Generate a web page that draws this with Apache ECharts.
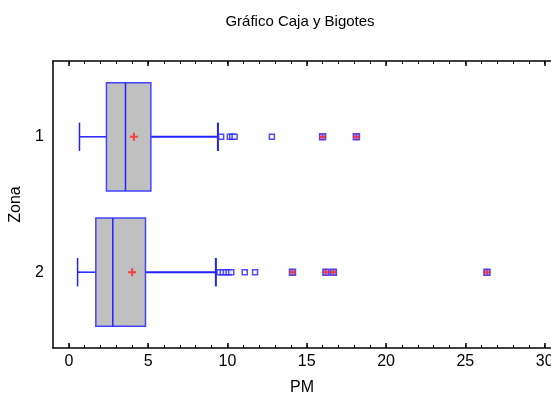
<!DOCTYPE html>
<html>
<head>
<meta charset="utf-8">
<script src="https://cdn.jsdelivr.net/npm/echarts@6/dist/echarts.min.js"></script>
<style>
  html, body { margin: 0; padding: 0; background: #fff; }
  #chart { width: 551px; height: 405px; }
</style>
</head>
<body>
<div id="chart"></div>
<script>
  const categories = ['1', '2'];
  const boxMin = [0.67, 0.55];
  const boxQ1 = [2.37, 1.7];
  const boxMedian = [3.57, 2.77];
  const boxQ3 = [5.17, 4.83];
  const boxMax = [9.4, 9.27];
  const means = [4.1, 3.99];
  const outliers1 = [9.6, 10.15, 10.3, 10.45, 12.8];
  const outliers2 = [9.5, 9.7, 9.9, 10.08, 10.24, 11.09, 11.74];
  const farOutliers1 = [16.0, 18.13];
  const farOutliers2 = [14.1, 16.21, 16.68, 26.36];
  const majorTicks = [0, 5, 10, 15, 20, 25, 30];
  const minorTicks = [0, 1, 2, 3, 4, 5, 6, 7, 8, 9, 10, 11, 12, 13, 14, 15,
    16, 17, 18, 19, 20, 21, 22, 23, 24, 25, 26, 27, 28, 29, 30];

  const font = "'Liberation Sans', Arial, sans-serif";
  const blue = '#2222ff';
  const plus = 'path://M3,0H5V3H8V5H5V8H3V5H0V3H3Z';

  const chart = echarts.init(document.getElementById('chart'), null, { renderer: 'canvas' });

  const boxData = categories.map((c, i) => [i + 1, boxMin[i], boxQ1[i], boxMedian[i], boxQ3[i], boxMax[i]]);
  const toPoints = (arr, zona) => arr.map((v) => [v, zona]);

  function renderBox(params, api) {
    const y = api.value(0);
    const lo = api.coord([api.value(1), y]);
    const q1 = api.coord([api.value(2), y]);
    const med = api.coord([api.value(3), y]);
    const q3 = api.coord([api.value(4), y]);
    const hi = api.coord([api.value(5), y]);
    const half = api.size([0, 0.4])[1];
    const cap = api.size([0, 0.105])[1];
    const cy = q1[1];
    const line = (x1, y1, x2, y2, w) => ({
      type: 'line',
      shape: { x1, y1, x2, y2 },
      style: { stroke: blue, lineWidth: w || 1.5 },
    });
    return {
      type: 'group',
      children: [
        line(lo[0], cy, q1[0], cy),
        line(q3[0], cy, hi[0], cy, 2),
        line(lo[0], cy - cap, lo[0], cy + cap),
        line(hi[0], cy - cap, hi[0], cy + cap, 2),
        {
          type: 'rect',
          shape: { x: q1[0], y: cy - half, width: q3[0] - q1[0], height: half * 2 },
          style: { fill: '#c0c0c0', stroke: '#4444ff', lineWidth: 1.5 },
        },
        line(med[0], cy - half, med[0], cy + half),
      ],
    };
  }

  const xBase = { type: 'value', min: -1, max: 30.4, splitLine: { show: false } };

  const option = {
    animation: false,
    textStyle: { fontFamily: font },
    title: {
      text: 'Gráfico Caja y Bigotes',
      left: 295,
      top: 9,
      textAlign: 'center',
      textStyle: { fontFamily: font, fontSize: 15, fontWeight: 'normal', color: '#000' },
    },
    grid: { left: 53, right: 0, top: 61, bottom: 57, outerBoundsMode: 'none' },
    xAxis: [
      Object.assign({}, xBase, {
        position: 'bottom',
        name: 'PM',
        nameLocation: 'middle',
        nameGap: 32,
        nameTextStyle: { fontFamily: font, fontSize: 16, color: '#000' },
        axisLine: { show: true, onZero: false, lineStyle: { color: '#000', width: 1.5 } },
        axisTick: { show: true, inside: true, length: 5, customValues: majorTicks, lineStyle: { color: '#000', width: 1.5 } },
        axisLabel: { show: true, customValues: majorTicks, margin: 6, fontFamily: font, fontSize: 16, color: '#000' },
      }),
      Object.assign({}, xBase, {
        position: 'bottom',
        axisLine: { show: false, onZero: false },
        axisTick: { show: true, inside: true, length: 3, customValues: minorTicks, lineStyle: { color: '#000' } },
        axisLabel: { show: false },
      }),
      Object.assign({}, xBase, {
        position: 'top',
        axisLine: { show: true, onZero: false, lineStyle: { color: '#000', width: 1.5 } },
        axisTick: { show: true, inside: true, length: 5, customValues: majorTicks, lineStyle: { color: '#000', width: 1.5 } },
        axisLabel: { show: false },
      }),
      Object.assign({}, xBase, {
        position: 'top',
        axisLine: { show: false, onZero: false },
        axisTick: { show: true, inside: true, length: 3, customValues: minorTicks, lineStyle: { color: '#000' } },
        axisLabel: { show: false },
      }),
    ],
    yAxis: {
      type: 'value',
      min: 0.44,
      max: 2.56,
      inverse: true,
      name: 'Zona',
      nameLocation: 'middle',
      nameGap: 29,
      nameTextStyle: { fontFamily: font, fontSize: 16, color: '#000' },
      splitLine: { show: false },
      axisLine: { show: true, onZero: false, lineStyle: { color: '#000', width: 1.5 } },
      axisTick: { show: false },
      axisLabel: {
        customValues: [1, 2],
        formatter: (v) => categories[Math.round(v) - 1],
        margin: 9,
        fontFamily: font,
        fontSize: 16,
        color: '#000',
      },
    },
    series: [
      {
        type: 'custom',
        renderItem: renderBox,
        encode: { x: [1, 2, 3, 4, 5], y: 0 },
        data: boxData,
        z: 2,
      },
      {
        type: 'scatter',
        symbol: 'rect',
        symbolSize: 5,
        itemStyle: { color: '#fff', borderColor: blue, borderWidth: 1.5 },
        data: toPoints(outliers1, 1).concat(toPoints(outliers2, 2)),
        z: 3,
      },
      {
        type: 'scatter',
        symbol: 'rect',
        symbolSize: 6,
        itemStyle: { color: '#8888ff', borderColor: blue, borderWidth: 1.5 },
        data: toPoints(farOutliers1, 1).concat(toPoints(farOutliers2, 2)),
        z: 3,
      },
      {
        type: 'scatter',
        symbol: plus,
        symbolSize: 7,
        itemStyle: { color: '#ff2020' },
        data: toPoints(farOutliers1, 1).concat(toPoints(farOutliers2, 2)),
        z: 4,
      },
      {
        type: 'scatter',
        symbol: plus,
        symbolSize: 8,
        itemStyle: { color: '#ff2020' },
        data: means.map((v, i) => [v, i + 1]),
        z: 4,
      },
    ],
  };

  chart.setOption(option);
</script>
</body>
</html>
